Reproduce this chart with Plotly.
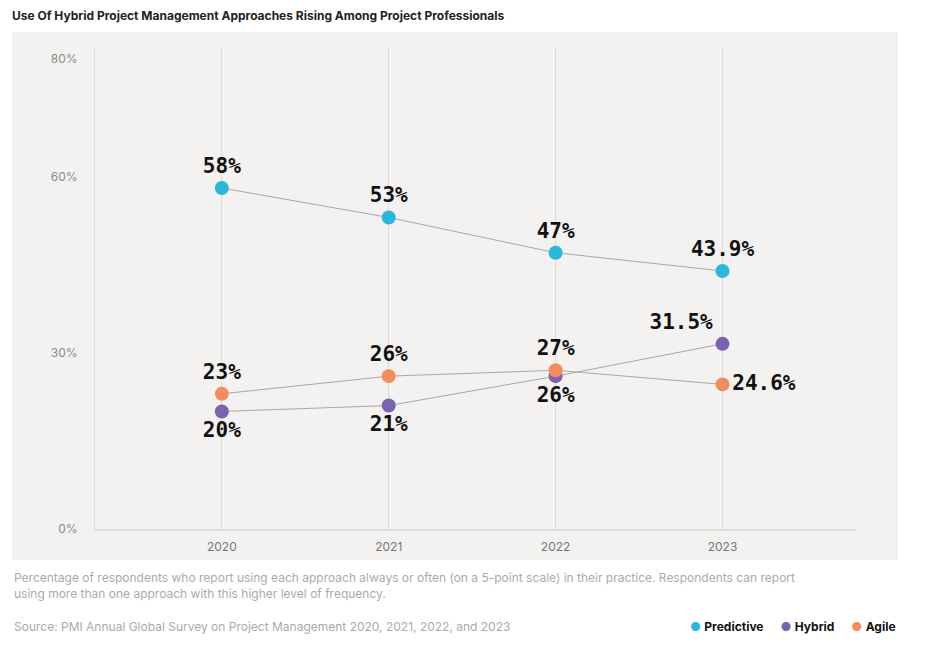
import plotly.graph_objects as go

# data
years = [2020, 2021, 2022, 2023]
predictive = [58, 53, 47, 43.9]
hybrid = [20, 21, 26, 31.5]
agile = [23, 26, 27, 24.6]

pred_labels = ["58%", "53%", "47%", "43.9%"]
hyb_labels = ["20%", "21%", "26%", "31.5%"]
agi_labels = ["23%", "26%", "27%", "24.6%"]

y_ticks = [0, 30, 60, 80]
y_ticktext = ["0%", "30%", "60%", "80%"]

series = [
    ("Predictive", predictive, pred_labels, "#2ab7dc",
     ["top center", "top center", "top center", "top center"]),
    ("Hybrid", hybrid, hyb_labels, "#7c63b0",
     ["bottom center", "bottom center", "bottom center", "top left"]),
    ("Agile", agile, agi_labels, "#f28d5d",
     ["top center", "top center", "top center", "middle right"]),
]

panel = "#f3f2f0"
grid = "#dcdbd8"

fig = go.Figure()

for name, vals, labels, color, pos in series:
    fig.add_trace(go.Scatter(
        x=years, y=vals, name=name,
        mode="lines+markers+text",
        line=dict(color="#a9a8a6", width=1),
        marker=dict(color=color, size=14),
        text=labels, textposition=pos,
        textfont=dict(family="DejaVu Sans Mono", size=21, color="#111", weight="bold"),
        showlegend=False, cliponaxis=False,
    ))

# reference line at 30%
fig.add_shape(type="line", xref="paper", yref="y", x0=0, x1=1, y0=30, y1=30,
              line=dict(color=grid, width=1), layer="below")

# beige panel behind the chart
fig.add_shape(type="rect", xref="paper", yref="paper",
              x0=-0.109, x1=1.0552, y0=-0.0643, y1=1.031,
              fillcolor=panel, line_width=0, layer="below")

fig.update_xaxes(
    range=[2019.24, 2023.8], tickvals=years,
    showgrid=True, gridcolor=grid, gridwidth=1,
    showline=True, linecolor=grid, linewidth=2,
    zeroline=False, ticks="", ticklabelstandoff=6,
    tickfont=dict(family="Inter", size=12, color="#777"),
)
fig.update_yaxes(
    range=[0, 82], tickvals=y_ticks, ticktext=y_ticktext,
    showgrid=False, zeroline=False,
    showline=True, linecolor=grid, linewidth=1,
    ticks="", ticklabelstandoff=14,
    tickfont=dict(family="Inter", size=12, color="#8a8a8a"),
)

# legend drawn as a text line
legend_txt = "     ".join(
    f"<span style='color:{c}'>●</span> <b>{n}</b>" for n, _, _, c, _ in series
)

fig.add_annotation(xref="paper", yref="paper", x=-0.109, y=-0.081,
                   xanchor="left", yanchor="top", align="left", showarrow=False,
                   text="Percentage of respondents who report using each approach always or often "
                        "(on a 5-point scale) in their practice. Respondents can report<br>"
                        "using more than one approach with this higher level of frequency.",
                   font=dict(family="Inter", size=12, color="#aaa"))
fig.add_annotation(xref="paper", yref="paper", x=-0.109, y=-0.2033,
                   xanchor="left", yanchor="middle", showarrow=False,
                   text="Source: PMI Annual Global Survey on Project Management 2020, 2021, 2022, and 2023",
                   font=dict(family="Inter", size=12, color="#aaa"))
fig.add_annotation(xref="paper", yref="paper", x=1.0552, y=-0.2033,
                   xanchor="right", yanchor="middle", showarrow=False,
                   text=legend_txt,
                   font=dict(family="Inter", size=12, color="#111"))

# page adds an 8px body margin, so the figure is drawn 8px smaller
fig.update_layout(
    width=926, height=652,
    margin=dict(l=87, r=78, t=39, b=131),
    paper_bgcolor="white", plot_bgcolor=panel,
    title=dict(text="<b>Use Of Hybrid Project Management Approaches Rising Among Project Professionals</b>",
               xref="container", yref="container", x=4 / 926, y=1 - 8 / 652,
               xanchor="left", yanchor="middle",
               font=dict(family="Inter", size=12, color="#222")),
    showlegend=False,
)

fig.write_html("out.html")
